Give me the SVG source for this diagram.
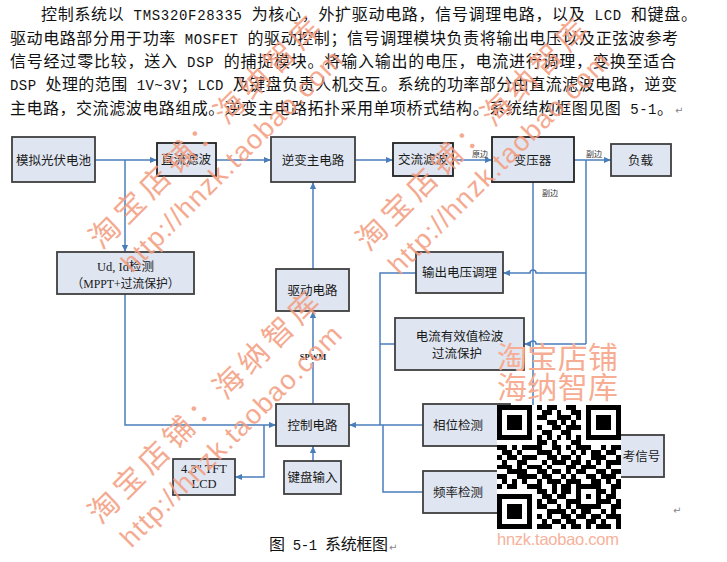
<svg xmlns="http://www.w3.org/2000/svg" width="727" height="562" viewBox="0 0 727 562">
<defs>
<style>
.box{fill:#dfe6f2;stroke:#3f3f3f;stroke-width:1.8}
.t{font-family:"Liberation Serif","Noto Sans CJK SC",serif;font-size:12.5px;fill:#1a1a1a;text-anchor:middle}
.ln{fill:none;stroke:#4a7ebb;stroke-width:1.5}
.hd{font-family:"Liberation Mono","Noto Sans CJK SC",monospace;font-size:16px;fill:#111}
.la{font-size:14px}
.ret{font-family:"DejaVu Sans",sans-serif;font-size:10px;fill:#888}
.lbl{font-family:"Liberation Serif","Noto Sans CJK SC",serif;font-size:8px;fill:#333;text-anchor:middle}
.wm{fill:#f39c7e;opacity:.85;font-family:"Noto Sans CJK SC","Liberation Sans",sans-serif}
.wm2{fill:#f39c7e;opacity:.85;font-family:"Liberation Sans","Noto Sans CJK SC",sans-serif}
</style>
<marker id="ah" viewBox="0 0 8 8" refX="8" refY="4" markerWidth="7" markerHeight="7" markerUnits="userSpaceOnUse" orient="auto">
<path d="M0 0.5L8 4L0 7.5z" fill="#4a7ebb"/>
</marker>
</defs>
<rect width="727" height="562" fill="#fff"/>

<g id="paragraph">
<text class="hd" x="41" y="20" textLength="656" lengthAdjust="spacing">控制系统以<tspan class="la"> TMS320F28335 </tspan>为核心，外扩驱动电路，信号调理电路，以及<tspan class="la"> LCD </tspan>和键盘。</text>
<text class="hd" x="10" y="44" textLength="668" lengthAdjust="spacing">驱动电路部分用于功率<tspan class="la"> MOSFET </tspan>的驱动控制；信号调理模块负责将输出电压以及正弦波参考</text>
<text class="hd" x="10" y="67" textLength="666" lengthAdjust="spacing">信号经过零比较，送入<tspan class="la"> DSP </tspan>的捕捉模块。将输入输出的电压，电流进行调理，变换至适合</text>
<text class="hd" x="10" y="90" textLength="667" lengthAdjust="spacing"><tspan class="la">DSP </tspan>处理的范围<tspan class="la"> 1V~3V</tspan>；<tspan class="la">LCD </tspan>及键盘负责人机交互。系统的功率部分由直流滤波电路，逆变</text>
<text class="hd" x="10" y="113.5" textLength="663" lengthAdjust="spacing">主电路，交流滤波电路组成。逆变主电路拓扑采用单项桥式结构。系统结构框图见图<tspan class="la"> 5-1</tspan>。</text>
<text class="ret" x="675" y="114">↵</text>
</g>

<g id="connectors">
<path class="ln" d="M95 160H157" marker-end="url(#ah)"/>
<path class="ln" d="M125 160V252" marker-end="url(#ah)"/>
<path class="ln" d="M216 160H271" marker-end="url(#ah)"/>
<path class="ln" d="M355 160H393" marker-end="url(#ah)"/>
<path class="ln" d="M453 160H492" marker-end="url(#ah)"/>
<path class="ln" d="M574 160H611" marker-end="url(#ah)"/>
<path class="ln" d="M586 160V344"/>
<path class="ln" d="M533 182V412"/>
<path class="ln" d="M586 273H536A3 3 0 0 0 530 273H503" marker-end="url(#ah)"/>
<path class="ln" d="M586 344H536A3 3 0 0 0 530 344H524" marker-end="url(#ah)"/>
<path class="ln" d="M416 273H380V425"/>
<path class="ln" d="M395 344H380"/>
<path class="ln" d="M423 425H349" marker-end="url(#ah)"/>
<path class="ln" d="M423 492H383V425"/>
<path class="ln" d="M125 294V425H276" marker-end="url(#ah)"/>
<path class="ln" d="M264 425V477H235" marker-end="url(#ah)"/>
<path class="ln" d="M313 461V446" marker-end="url(#ah)"/>
<path class="ln" d="M313 404V311" marker-end="url(#ah)"/>
<path class="ln" d="M313 269V182" marker-end="url(#ah)"/>
<text class="lbl" x="480" y="157">原边</text>
<text class="lbl" x="594" y="157">副边</text>
<text class="lbl" x="550" y="196">副边</text>
<rect x="299" y="351" width="28" height="11" fill="#fff"/>
<text x="313" y="360" font-family="Liberation Serif,serif" font-size="8.5" font-weight="bold" fill="#222" text-anchor="middle">SPWM</text>
</g>

<g id="pv"><rect class="box" x="12" y="137" width="83" height="45"/><text class="t" x="53.5" y="165">模拟光伏电池</text></g>
<g id="dcfilter"><rect class="box" x="157" y="143" width="59" height="33" style="stroke:#222"/><text class="t" x="186" y="164">直流滤波</text></g>
<g id="inverter"><rect class="box" x="271" y="137" width="84" height="45"/><text class="t" x="313" y="165">逆变主电路</text></g>
<g id="acfilter"><rect class="box" x="393" y="143" width="60" height="33" style="stroke:#222"/><text class="t" x="423" y="164">交流滤波</text></g>
<g id="transformer"><rect class="box" x="492" y="137" width="82" height="45" style="stroke:#222"/><text class="t" x="532.5" y="165">变压器</text></g>
<g id="load"><rect class="box" x="611" y="144" width="60" height="32"/><text class="t" x="640.5" y="164.5">负载</text></g>
<g id="udid"><rect class="box" x="57" y="252" width="137" height="42"/>
<text class="t" x="125.5" y="271" font-size="13">Ud, Id检测</text>
<text class="t" x="125.5" y="288" font-size="13" textLength="108" lengthAdjust="spacingAndGlyphs">（MPPT+过流保护）</text></g>
<g id="drive"><rect class="box" x="276" y="269" width="73" height="42"/><text class="t" x="312.5" y="295">驱动电路</text></g>
<g id="vout"><rect class="box" x="416" y="252" width="87" height="41"/><text class="t" x="459.5" y="277">输出电压调理</text></g>
<g id="irms"><rect class="box" x="395" y="318" width="129" height="52"/>
<text class="t" x="459.5" y="340.5">电流有效值检波</text><text class="t" x="457" y="357.5">过流保护</text></g>
<g id="control"><rect class="box" x="276" y="404" width="73" height="42"/><text class="t" x="312.5" y="430">控制电路</text></g>
<g id="keyboard"><rect class="box" x="284" y="461" width="57" height="33"/><text class="t" x="312.5" y="482">键盘输入</text></g>
<g id="lcd"><rect class="box" x="173" y="459" width="62" height="36"/>
<text class="t" x="204" y="472.5" font-size="13">4.3" TFT</text><text class="t" x="204" y="488" font-size="13">LCD</text></g>
<g id="phase"><rect class="box" x="423" y="404" width="87" height="42"/><text class="t" x="458" y="430">相位检测</text></g>
<g id="freq"><rect class="box" x="423" y="471" width="87" height="42"/><text class="t" x="458" y="497">频率检测</text></g>
<g id="ref"><rect class="box" x="560" y="435" width="104" height="42"/><text class="t" x="641.5" y="460.5">考信号</text></g>

<g id="caption">
<text class="hd" x="269" y="550" textLength="119" lengthAdjust="spacing">图<tspan class="la"> 5-1 </tspan>系统框图</text>
<text class="ret" x="389" y="551">↵</text>
<text class="ret" x="673" y="514">↵</text>
</g>

<g id="watermarks">
<g transform="translate(101.8 250.4) rotate(-45)">
<text class="wm" x="0" y="0" font-size="30" textLength="312" lengthAdjust="spacing">淘宝店铺：海纳智库</text>
<text class="wm2" x="5" y="38" font-size="27" textLength="300" lengthAdjust="spacing">http://hnzk.taobao.com</text>
</g>
<g transform="translate(368.8 252.4) rotate(-45)">
<text class="wm" x="0" y="0" font-size="30" textLength="312" lengthAdjust="spacing">淘宝店铺：海纳智库</text>
<text class="wm2" x="5" y="38" font-size="27" textLength="300" lengthAdjust="spacing">http://hnzk.taobao.com</text>
</g>
<g transform="translate(100.8 525.4) rotate(-45)">
<text class="wm" x="0" y="0" font-size="30" textLength="312" lengthAdjust="spacing">淘宝店铺：海纳智库</text>
<text class="wm2" x="5" y="38" font-size="27" textLength="300" lengthAdjust="spacing">http://hnzk.taobao.com</text>
</g>
<text font-family="Noto Sans CJK SC,sans-serif" font-size="30" fill="#f6ad93"><tspan x="497" y="368" textLength="121" lengthAdjust="spacing">淘宝店铺</tspan><tspan x="497" y="398" textLength="121" lengthAdjust="spacing">海纳智库</tspan></text>
<text x="497" y="545" font-family="Liberation Sans,sans-serif" font-size="16.5" fill="#f6b29b" textLength="122" lengthAdjust="spacing">hnzk.taobao.com</text>
</g>

<g id="qr">
<rect x="497" y="405" width="124" height="124" fill="#fff"/>
<g transform="translate(497 405) scale(4.96)" fill="#000" shape-rendering="crispEdges">
<path fill-rule="evenodd" d="M0 0h7v7h-7zM1 1v5h5v-5zM2 2h3v3h-3zM18 0h7v7h-7zM19 1v5h5v-5zM20 2h3v3h-3zM0 18h7v7h-7zM1 19v5h5v-5zM2 20h3v3h-3z"/>
<path d="M8 0h1v1h-1zM10 0h2v1h-2zM14 0h2v1h-2z
M9 1h2v1h-2zM12 1h1v1h-1zM15 1h2v1h-2z
M8 2h2v1h-2zM12 2h3v1h-3zM16 2h1v1h-1z
M10 3h2v1h-2zM13 3h1v1h-1zM15 3h1v1h-1z
M8 4h1v1h-1zM11 4h2v1h-2zM14 4h3v1h-3z
M9 5h2v1h-2zM13 5h2v1h-2z
M8 6h1v1h-1zM10 6h1v1h-1zM12 6h1v1h-1zM14 6h1v1h-1zM16 6h1v1h-1z
M8 7h2v1h-2zM11 7h1v1h-1zM15 7h2v1h-2z
M0 8h2v1h-2zM3 8h1v1h-1zM5 8h4v1h-4zM11 8h2v1h-2zM14 8h1v1h-1zM16 8h3v1h-3zM21 8h1v1h-1zM23 8h2v1h-2z
M1 9h2v1h-2zM4 9h1v1h-1zM8 9h3v1h-3zM12 9h1v1h-1zM15 9h1v1h-1zM17 9h1v1h-1zM19 9h2v1h-2zM22 9h2v1h-2z
M0 10h1v1h-1zM2 10h2v1h-2zM5 10h3v1h-3zM10 10h2v1h-2zM13 10h2v1h-2zM16 10h1v1h-1zM19 10h3v1h-3zM24 10h1v1h-1z
M1 11h1v1h-1zM4 11h2v1h-2zM9 11h1v1h-1zM11 11h3v1h-3zM15 11h2v1h-2zM18 11h1v1h-1zM20 11h1v1h-1zM22 11h3v1h-3z
M0 12h3v1h-3zM4 12h1v1h-1zM6 12h3v1h-3zM10 12h1v1h-1zM14 12h2v1h-2zM17 12h3v1h-3zM22 12h1v1h-1z
M2 13h4v1h-4zM8 13h2v1h-2zM11 13h2v1h-2zM14 13h1v1h-1zM16 13h2v1h-2zM20 13h2v1h-2zM23 13h2v1h-2z
M0 14h2v1h-2zM4 14h4v1h-4zM9 14h2v1h-2zM13 14h1v1h-1zM15 14h1v1h-1zM18 14h2v1h-2zM21 14h3v1h-3z
M1 15h1v1h-1zM3 15h1v1h-1zM5 15h1v1h-1zM8 15h1v1h-1zM10 15h3v1h-3zM14 15h3v1h-3zM19 15h2v1h-2zM22 15h1v1h-1zM24 15h1v1h-1z
M0 16h1v1h-1zM2 16h2v1h-2zM6 16h3v1h-3zM11 16h1v1h-1zM13 16h2v1h-2zM16 16h5v1h-5zM23 16h2v1h-2z
M8 17h2v1h-2zM11 17h1v1h-1zM13 17h2v1h-2zM16 17h1v1h-1zM20 17h2v1h-2zM23 17h1v1h-1z
M9 18h2v1h-2zM12 18h2v1h-2zM16 18h1v1h-1zM18 18h1v1h-1zM20 18h1v1h-1zM22 18h2v1h-2z
M8 19h1v1h-1zM10 19h2v1h-2zM14 19h3v1h-3zM20 19h3v1h-3zM24 19h1v1h-1z
M8 20h2v1h-2zM12 20h1v1h-1zM14 20h1v1h-1zM16 20h5v1h-5zM23 20h2v1h-2z
M10 21h4v1h-4zM15 21h1v1h-1zM17 21h2v1h-2zM21 21h1v1h-1zM23 21h1v1h-1z
M8 22h1v1h-1zM10 22h1v1h-1zM13 22h2v1h-2zM16 22h2v1h-2zM19 22h2v1h-2zM22 22h3v1h-3z
M9 23h1v1h-1zM11 23h2v1h-2zM14 23h2v1h-2zM18 23h2v1h-2zM21 23h1v1h-1zM24 23h1v1h-1z
M8 24h3v1h-3zM13 24h1v1h-1zM15 24h2v1h-2zM18 24h1v1h-1zM20 24h3v1h-3zM24 24h1v1h-1z"/>
</g>
</g>
</svg>
